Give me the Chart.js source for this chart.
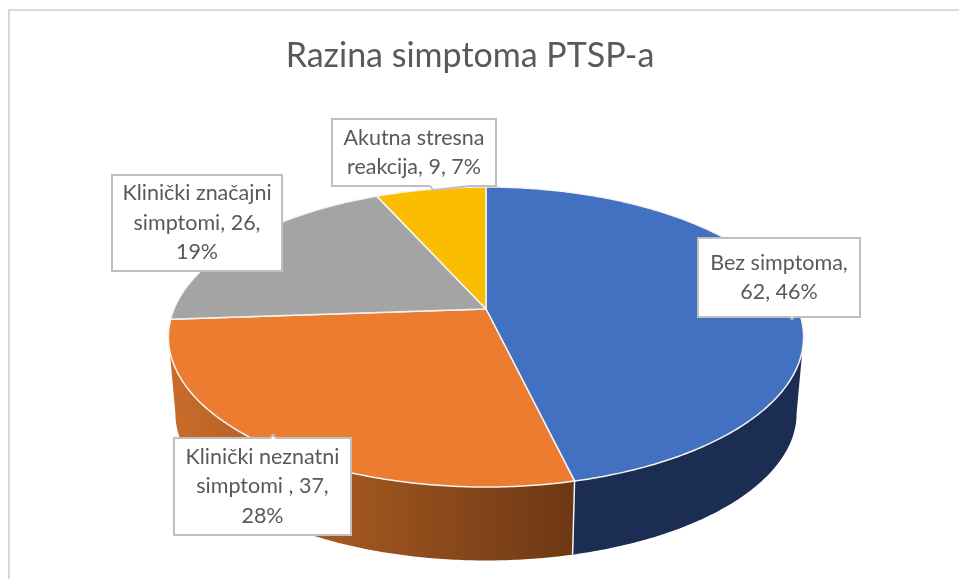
<!DOCTYPE html>
<html>
<head>
<meta charset="utf-8">
<title>Razina simptoma PTSP-a</title>
<script src="https://cdn.jsdelivr.net/npm/chart.js@4"></script>
<style>
    html, body { margin: 0; padding: 0; background: #fff; overflow: hidden; }
    canvas { display: block; }
</style>
</head>
<body>
<canvas id="chart" width="959" height="579"></canvas>
<script>
const title = 'Razina simptoma PTSP-a'
const categories = ['Bez simptoma', 'Klinički neznatni simptomi ', 'Klinički značajni simptomi', 'Akutna stresna reakcija']
const values = [62, 37, 26, 9]
const percents = [46, 28, 19, 7]
const topColors = ['#4371C1', '#EB7C30', '#A4A4A4', '#FBBD00']

// where each label wraps, as number of characters of the full label per line
const labelBreaks = [[13], [18, 15], [18, 14], [15]]

const labelBoxes = [
    { x: 698, y: 238, w: 162, h: 79, tip: { a: 790, b: 794, x: 792, y: 319 } },
    { x: 174, y: 438, w: 177, h: 97, tip: { a: 270, b: 276, x: 273, y: 435 } },
    { x: 112, y: 175, w: 170, h: 96 },
    { x: 332, y: 119, w: 164, h: 67, tip: { a: 430, b: 470, x: 433, y: 190 } }
]

// perspective of the pie: unit circle -> screen
const CX = 486, CY = 309, PERSP = -0.1867, YSCALE = 87.1
const DEPTH = 77, BOTTOM_X = 0.978, BOTTOM_Y = 0.98

function topPoint(r, angle) {
    let u = Math.cos(angle), v = Math.sin(angle)
    let d = 1 + PERSP * v
    return { x: CX + r * u / d, y: (CY + YSCALE * v) / d }
}

function bottomPoint(r, angle) {
    let p = topPoint(r, angle)
    return {
        x: CX + (p.x - CX) * BOTTOM_X,
        y: CY + DEPTH + (p.y - CY) * BOTTOM_Y
    }
}

function arcPoints(fn, r, from, to) {
    let pts = []
    let steps = Math.max(2, Math.ceil(Math.abs(to - from) / 0.01))
    for (let i = 0; i <= steps; i++) {
        pts.push(fn(r, from + (to - from) * i / steps))
    }
    return pts
}

function tracePoints(ctx, pts) {
    pts.forEach(p => ctx.lineTo(p.x, p.y))
}

function sideFill(ctx, index) {
    if (index === 0) {
        return '#1b2d52'
    }
    let g = ctx.createLinearGradient(170, 0, 575, 0)
    g.addColorStop(0, '#c96c2a')
    g.addColorStop(0.45, '#a0561f')
    g.addColorStop(1, '#6c3814')
    return g
}

function labelLines(i) {
    let text = categories[i] + ', ' + values[i] + ', ' + percents[i] + '%'
    let lines = []
    let pos = 0
    labelBreaks[i].forEach(n => {
        lines.push(text.slice(pos, pos + n).trim())
        pos += n
    })
    lines.push(text.slice(pos).trim())
    return lines
}

const pie3d = {
    id: 'pie3d',
    beforeDraw(chart) {
        let ctx = chart.ctx
        ctx.save()
        ctx.strokeStyle = '#d9d9d9'
        ctx.lineWidth = 2
        ctx.beginPath()
        ctx.moveTo(9, 579)
        ctx.lineTo(9, 10)
        ctx.lineTo(959, 10)
        ctx.stroke()
        ctx.restore()
    },
    beforeDatasetsDraw(chart) {
        let ctx = chart.ctx
        let arcs = chart.getDatasetMeta(0).data
        // the disc is widest a little below its middle, the wall starts there
        let wallFrom = 0.188, wallTo = Math.PI - 0.188

        ctx.save()
        ctx.lineJoin = 'round'

        // side wall, only the front of the disc shows
        arcs.forEach((el, i) => {
            let from = Math.max(el.startAngle, wallFrom)
            let to = Math.min(el.endAngle, wallTo)
            if (to <= from) return
            ctx.beginPath()
            tracePoints(ctx, arcPoints(topPoint, el.outerRadius, from, to))
            tracePoints(ctx, arcPoints(bottomPoint, el.outerRadius, to, from))
            ctx.closePath()
            ctx.fillStyle = sideFill(ctx, i)
            ctx.fill()
        })

        // top face
        arcs.forEach((el, i) => {
            ctx.beginPath()
            ctx.moveTo(CX, CY)
            tracePoints(ctx, arcPoints(topPoint, el.outerRadius, el.startAngle, el.endAngle))
            ctx.closePath()
            ctx.fillStyle = topColors[i]
            ctx.fill()
            ctx.strokeStyle = '#f4f4f4'
            ctx.lineWidth = 1.5
            ctx.stroke()
        })

        // seam between the two visible walls
        let seam = arcs[0].endAngle
        let p1 = topPoint(arcs[0].outerRadius, seam), p2 = bottomPoint(arcs[0].outerRadius, seam)
        ctx.beginPath()
        ctx.moveTo(p1.x, p1.y)
        ctx.lineTo(p2.x, p2.y)
        ctx.strokeStyle = '#f4f4f4'
        ctx.lineWidth = 1.5
        ctx.stroke()
        ctx.restore()

        drawLabels(ctx)
        return false
    }
}

function drawLabels(ctx) {
    ctx.save()
    labelBoxes.forEach((b, i) => {
        ctx.beginPath()
        ctx.moveTo(b.x, b.y)
        if (b.tip && b.tip.y < b.y) {
            ctx.lineTo(b.tip.a, b.y)
            ctx.lineTo(b.tip.x, b.tip.y)
            ctx.lineTo(b.tip.b, b.y)
        }
        ctx.lineTo(b.x + b.w, b.y)
        ctx.lineTo(b.x + b.w, b.y + b.h)
        if (b.tip && b.tip.y > b.y) {
            ctx.lineTo(b.tip.b, b.y + b.h)
            ctx.lineTo(b.tip.x, b.tip.y)
            ctx.lineTo(b.tip.a, b.y + b.h)
        }
        ctx.lineTo(b.x, b.y + b.h)
        ctx.closePath()
        ctx.fillStyle = '#fff'
        ctx.fill()
        ctx.strokeStyle = '#bfbfbf'
        ctx.lineWidth = 2
        ctx.stroke()

        let lines = labelLines(i)
        let lineH = 29.5
        let startY = b.y + b.h / 2 - (lines.length - 1) * lineH / 2
        ctx.fillStyle = '#595959'
        ctx.font = '21.5px Lato'
        ctx.textAlign = 'center'
        ctx.textBaseline = 'middle'
        lines.forEach((line, k) => {
            ctx.fillText(line, b.x + b.w / 2, startY + k * lineH)
        })
    })
    ctx.restore()
}

new Chart(document.getElementById('chart'), {
    type: 'pie',
    data: {
        labels: categories,
        datasets: [{
            data: values,
            backgroundColor: topColors
        }]
    },
    options: {
        responsive: false,
        animation: false,
        radius: 312,
        layout: { padding: { right: 19 } },
        plugins: {
            legend: { display: false },
            tooltip: { enabled: false },
            title: {
                display: true,
                text: title,
                color: '#595959',
                font: { family: 'Lato', size: 34, weight: 'normal' },
                padding: { top: 36, bottom: 10 }
            }
        }
    },
    plugins: [pie3d]
})
</script>
</body>
</html>
